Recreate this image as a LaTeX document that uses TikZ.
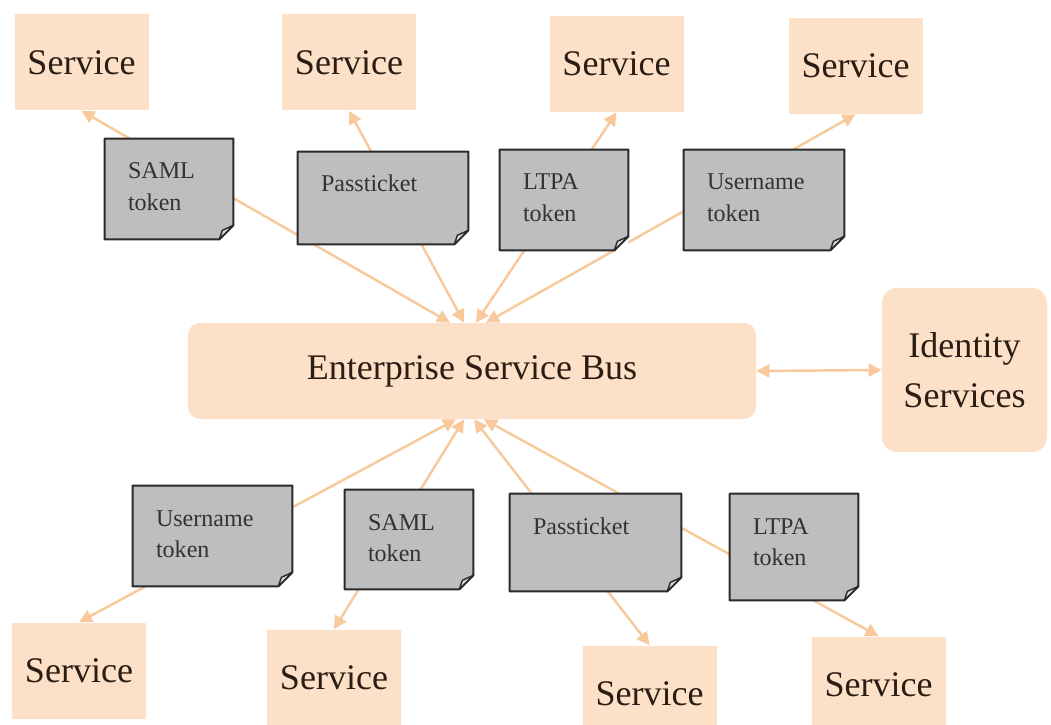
\documentclass[tikz,border=0pt]{standalone}
\usepackage{fontspec}
\setmainfont{Liberation Serif}
\usepackage{tikz}
\usetikzlibrary{arrows.meta}
\definecolor{esbpeach}{HTML}{FCE1C8}
\definecolor{esbarrow}{HTML}{F8C99C}
\definecolor{esbgray}{HTML}{BEBEBE}
\definecolor{esbedge}{HTML}{2A2A2A}
\definecolor{esbfold}{HTML}{DADADA}
\definecolor{esbtext}{HTML}{2B1D14}

\begin{document}
\begin{tikzpicture}[
  svc/.style={fill=esbpeach, minimum width=2.68cm, minimum height=1.92cm, inner sep=0pt,
              text=esbtext, font=\fontsize{20.5}{24}\selectfont},
  bus/.style={svc, rounded corners=0.24cm},
  tok/.style={fill=esbgray, inner xsep=0.46cm, inner ysep=0pt, align=left,
              text width=1.64cm, text height=0.8cm, text depth=1.2cm,
              text=black!80, font=\fontsize{13.7}{18.2}\selectfont},
  tokline/.style={draw=esbedge, line width=1.2pt, line join=round},
  foldline/.style={fill=esbfold, draw=esbedge, line width=0.8pt, line join=round},
  arr/.style={{Triangle[length=2.6mm,width=2.6mm]}-{Triangle[length=2.6mm,width=2.6mm]},
              line width=1.4pt, draw=esbarrow},
]
\useasboundingbox (0,0) rectangle (21.02,-14.5);

% services
\node[svc] (s1) at (1.63,-1.25)  {Service};
\node[svc] (s2) at (6.98,-1.25)  {Service};
\node[svc] (s3) at (12.33,-1.28) {Service};
\node[svc] (s4) at (17.11,-1.32) {Service};
\node[svc] (s5) at (1.58,-13.41) {Service};
\node[svc] (s6) at (6.68,-13.55) {Service};
\node[svc] (s7) at (12.99,-13.87){Service};
\node[svc] (s8) at (17.57,-13.69){Service};

% bus and identity
\node[bus, minimum width=11.36cm] (esb) at (9.44,-7.42) {Enterprise Service Bus};
\node[bus, minimum width=3.3cm, minimum height=3.28cm, rounded corners=0.3cm, align=center,
      font=\fontsize{20.5}{28.5}\selectfont] (ids) at (19.29,-7.4) {Identity\\Services};

\coordinate (ht1) at ([xshift=-0.44cm]esb.north);
\coordinate (ht2) at ([xshift=-0.16cm]esb.north);
\coordinate (ht3) at ([xshift=0.08cm]esb.north);
\coordinate (ht4) at ([xshift=0.28cm]esb.north);
\coordinate (hb1) at ([xshift=-0.32cm]esb.south);
\coordinate (hb2) at ([xshift=-0.16cm]esb.south);
\coordinate (hb3) at ([xshift=0.04cm]esb.south);
\coordinate (hb4) at ([xshift=0.24cm]esb.south);

\draw[arr] (ht1) -- (s1.south);
\draw[arr] (ht2) -- (s2.south);
\draw[arr] (ht3) -- (s3.south);
\draw[arr] (ht4) -- (s4.south);
\draw[arr] (hb1) -- (s5.north);
\draw[arr] (hb2) -- (s6.north);
\draw[arr] (hb3) -- (s7.north);
\draw[arr] (hb4) -- (s8.north);
\draw[arr] (esb.east) -- (ids.west);

% tokens
\node[tok]                                    (tk1) at (3.38,-3.78)  {SAML\\token};
\node[tok, text width=2.48cm, text depth=1.04cm] (tk2) at (7.66,-3.96) {Passticket};
\node[tok]                                    (tk3) at (11.28,-4.0)  {LTPA\\token};
\node[tok, text width=2.28cm]                 (tk4) at (15.28,-4.0)  {Username\\token};
\node[tok, text width=2.26cm]                 (tb1) at (4.25,-10.72) {Username\\token};
\node[tok, text depth=1.18cm]                 (tb2) at (8.18,-10.79) {SAML\\token};
\node[tok, text width=2.5cm, text depth=1.14cm] (tb3) at (11.91,-10.85) {Passticket};
\node[tok, text depth=1.32cm]                 (tb4) at (15.88,-10.94) {LTPA\\token};

% dog-eared corner on every token
\foreach \t in {tk1,tk2,tk3,tk4,tb1,tb2,tb3,tb4} {
  \fill[white] ([yshift=0.28cm]\t.south east) -- (\t.south east)
    -- ([xshift=-0.28cm]\t.south east) -- cycle;
  \draw[tokline] (\t.north west) -- (\t.north east) -- ([yshift=0.28cm]\t.south east)
    -- ([xshift=-0.28cm]\t.south east) -- (\t.south west) -- cycle;
  \draw[foldline] ([yshift=0.28cm]\t.south east) -- ([xshift=-0.22cm,yshift=0.18cm]\t.south east)
    -- ([xshift=-0.28cm]\t.south east) -- cycle;
}
\end{tikzpicture}
\end{document}
